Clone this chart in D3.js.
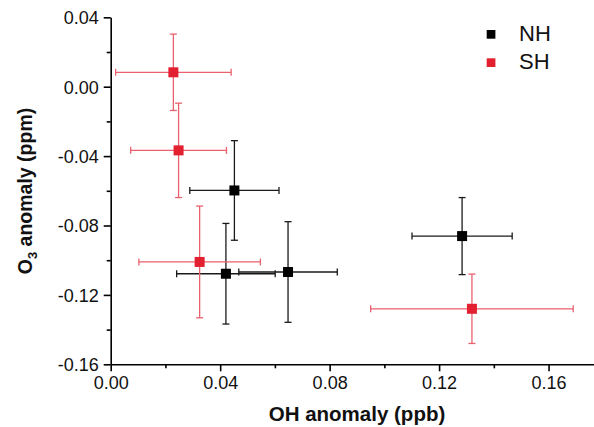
<!DOCTYPE html>
<html>
<head>
<meta charset="utf-8">
<script src="https://cdn.jsdelivr.net/npm/d3@7"></script>
<style>
  body { margin: 0; background: #fff; }
  svg { display: block; font-family: "Liberation Sans", Arial, sans-serif; }
</style>
</head>
<body>
<svg id="chart" width="594" height="427"></svg>
<script>
// values
const seriesNames = ["NH", "SH"];
const nhX    = [0.0452, 0.0421, 0.0648, 0.1284];
const nhY    = [-0.0598, -0.1078, -0.1068, -0.0861];
const nhXErr = [0.0163, 0.0180, 0.0180, 0.0183];
const nhYErr = [0.0287, 0.0290, 0.0290, 0.0222];
const shX    = [0.0229, 0.0248, 0.0325, 0.1320];
const shY    = [0.0083, -0.0367, -0.1010, -0.1280];
const shXErr = [0.0211, 0.0175, 0.0222, 0.0370];
const shYErr = [0.0220, 0.0272, 0.0322, 0.0200];
const xTicks = [0, 0.04, 0.08, 0.12, 0.16];
const xTickLabels = ["0.00", "0.04", "0.08", "0.12", "0.16"];
const yTicks = [0.04, 0, -0.04, -0.08, -0.12, -0.16];
const yTickLabels = ["0.04", "0.00", "-0.04", "-0.08", "-0.12", "-0.16"];

const mLeft = 110.7, mTop = 17.3, mRight = 594, mBottom = 364.3;

const x = d3.scaleLinear().domain([0, 0.1766]).range([mLeft, mRight]);
const y = d3.scaleLinear().domain([-0.16, 0.04]).range([mBottom, mTop]);

const svg = d3.select("#chart");

// minor ticks first, so the labelled axis draws over them
svg.append("g")
    .attr("transform", "translate(0," + mBottom + ")")
    .call(d3.axisBottom(x).tickValues(d3.range(0.02, 0.18, 0.04)).tickSize(4).tickFormat(""))
    .call(g => g.select(".domain").remove());
svg.append("g")
    .attr("transform", "translate(" + mLeft + ",0)")
    .call(d3.axisLeft(y).tickValues(d3.range(-0.14, 0.04, 0.04)).tickSize(4).tickFormat(""))
    .call(g => g.select(".domain").remove());

const xAxis = svg.append("g")
    .attr("transform", "translate(0," + mBottom + ")")
    .call(d3.axisBottom(x).tickValues(xTicks).tickSize(7).tickPadding(5)
        .tickSizeOuter(0).tickFormat((d, i) => xTickLabels[i]));
const yAxis = svg.append("g")
    .attr("transform", "translate(" + mLeft + ",0)")
    .call(d3.axisLeft(y).tickValues(yTicks).tickSize(7).tickPadding(5)
        .tickSizeOuter(0).tickFormat((d, i) => yTickLabels[i]));

svg.selectAll(".tick line, .domain").attr("stroke", "#000").attr("stroke-width", 1.6);
svg.selectAll(".tick text").attr("font-size", 18).attr("fill", "#111")
    .attr("font-family", "Liberation Sans, Arial, sans-serif");
yAxis.selectAll(".tick text").attr("dy", "0.36em");

// axis titles
svg.append("text")
    .attr("x", 357).attr("y", 421)
    .attr("text-anchor", "middle")
    .attr("font-size", 20.5).attr("font-weight", "bold").attr("fill", "#111")
    .text("OH anomaly (ppb)");

const yTitle = svg.append("text")
    .attr("transform", "translate(32,191) rotate(-90)")
    .attr("text-anchor", "middle")
    .attr("font-size", 19.5).attr("font-weight", "bold").attr("fill", "#111");
yTitle.append("tspan").text("O");
yTitle.append("tspan").attr("font-size", 13).attr("dy", 5).text("3");
yTitle.append("tspan").attr("dy", -5).text(" anomaly (ppm)");

function drawSeries(xs, ys, xe, ye, barColor, markColor) {
    const pts = xs.map((v, i) => ({x: v, y: ys[i], xe: xe[i], ye: ye[i]}));
    const g = svg.append("g");
    const cap = 3.5;
    pts.forEach(p => {
        const bars = g.append("g").attr("stroke", barColor).attr("stroke-width", 1.3).attr("fill", "none");
        bars.append("line").attr("x1", x(p.x - p.xe)).attr("x2", x(p.x + p.xe)).attr("y1", y(p.y)).attr("y2", y(p.y));
        bars.append("line").attr("x1", x(p.x)).attr("x2", x(p.x)).attr("y1", y(p.y - p.ye)).attr("y2", y(p.y + p.ye));
        [p.x - p.xe, p.x + p.xe].forEach(v =>
            bars.append("line").attr("x1", x(v)).attr("x2", x(v)).attr("y1", y(p.y) - cap).attr("y2", y(p.y) + cap));
        [p.y - p.ye, p.y + p.ye].forEach(v =>
            bars.append("line").attr("x1", x(p.x) - cap).attr("x2", x(p.x) + cap).attr("y1", y(v)).attr("y2", y(v)));
    });
    g.selectAll("rect")
        .data(pts)
        .enter()
        .append("rect")
        .attr("x", d => x(d.x) - 5)
        .attr("y", d => y(d.y) - 5)
        .attr("width", 10).attr("height", 10)
        .attr("fill", markColor);
}

drawSeries(nhX, nhY, nhXErr, nhYErr, "#1a1a1a", "#000");
drawSeries(shX, shY, shXErr, shYErr, "#e9616d", "#e2202f");

// legend
const legendColors = ["#000", "#e2202f"];
const legend = svg.append("g");
seriesNames.forEach((name, i) => {
    legend.append("rect")
        .attr("x", 486.7).attr("y", 30 + i * 28.3)
        .attr("width", 8.7).attr("height", 8.7)
        .attr("fill", legendColors[i]);
    legend.append("text")
        .attr("x", 519).attr("y", 41 + i * 28.3)
        .attr("font-size", 22).attr("fill", "#111")
        .text(name);
});
</script>
</body>
</html>
